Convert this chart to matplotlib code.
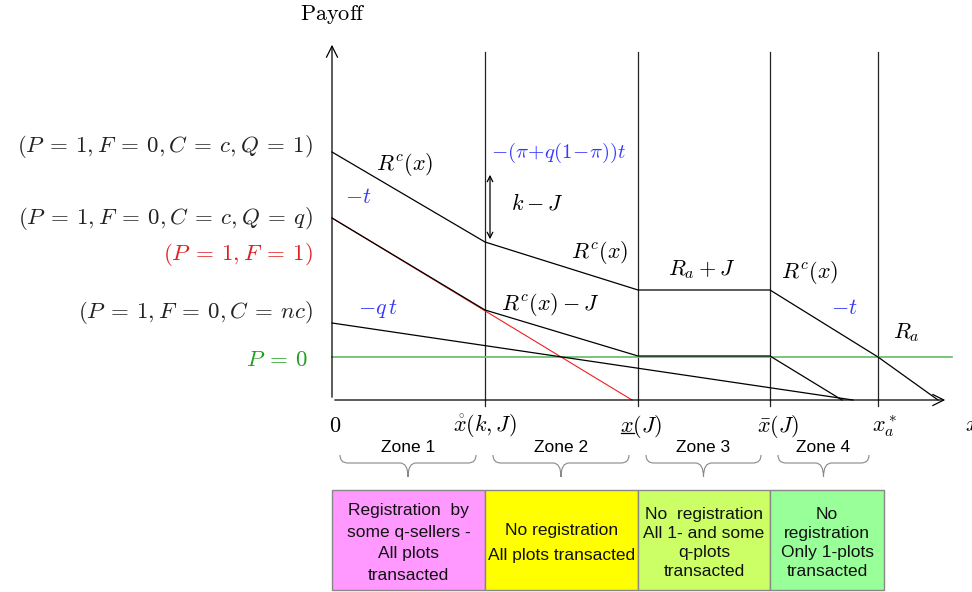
import matplotlib
matplotlib.use("Agg")
import matplotlib.pyplot as plt
from matplotlib.path import Path
from matplotlib.patches import PathPatch, Rectangle

plt.rcParams['mathtext.fontset'] = 'cm'

# zone boundaries on the x axis
x_bounds = [0, 153, 306, 438, 546]
x_tick_labels = ['$0$', r'$\mathring{x}(k,J)$', '$x(J)$', r'$\bar{x}(J)$', '$x_a^*$']

# payoff curves (x, payoff)
rc_x = [0, 153, 306, 438, 546, 606]
rc_y = [248, 158, 110, 110, 43, 0]
q_x = [0, 153, 306, 438, 510]
q_y = [182, 90, 44, 44, 0]
red_x = [0, 300]
red_y = [182, 0]
nc_x = [0, 521]
nc_y = [77, 0]
p0_level = 43

EQ = r'\:=\:'
left_labels = [f'$(P{EQ}1,F{EQ}0,C{EQ}c,Q{EQ}1)$', f'$(P{EQ}1,F{EQ}0,C{EQ}c,Q{EQ}q)$',
               f'$(P{EQ}1,F{EQ}1)$', f'$(P{EQ}1,F{EQ}0,C{EQ}nc)$', f'$P{EQ}0$']
left_label_y = [254, 182, 145, 87, 40]
left_label_colors = ['#222222', '#222222', '#e02020', '#222222', '#22a022']

zone_names = ['Zone 1', 'Zone 2', 'Zone 3', 'Zone 4']
box_texts = ['Registration  by\nsome q-sellers -\nAll plots\ntransacted',
             'No registration\nAll plots transacted',
             'No  registration\nAll 1- and some\nq-plots\ntransacted',
             'No\nregistration\nOnly 1-plots\ntransacted']
box_right = [153, 306, 438, 552]
box_colors = ['#ff99ff', '#ffff00', '#ccff66', '#99ff99']
box_spacing = [1.55, 1.77, 1.36, 1.36]

fig = plt.figure(figsize=(9.72, 5.92), dpi=100)
ax = fig.add_axes([0, 0, 1, 1])
ax.set_xlim(-332, 640)
ax.set_ylim(-192, 400)
ax.axis('off')

lw = 0.9
# axes with arrows
ax.annotate('', xy=(0, 358), xytext=(0, 0),
            arrowprops=dict(arrowstyle='->', lw=lw, color='black', mutation_scale=20))
ax.annotate('', xy=(616, 0), xytext=(0, 0),
            arrowprops=dict(arrowstyle='->', lw=lw, color='black', mutation_scale=20))
ax.text(1, 385, r'$\mathrm{Payoff}$', fontsize=16, ha='center', va='center')
ax.text(633, -25, '$x$', fontsize=16, ha='left', va='center')

# vertical zone lines
for xb in x_bounds[1:]:
    ax.plot([xb, xb], [-6, 348], color='#222222', lw=lw)

# payoff lines
ax.plot([0, 620], [p0_level, p0_level], color='#70c070', lw=1.3)
ax.plot(red_x, red_y, color='#ee2020', lw=0.8)
ax.plot(rc_x, rc_y, color='black', lw=lw)
ax.plot(q_x, q_y, color='black', lw=lw)
ax.plot(nc_x, nc_y, color='black', lw=lw)

# k - J double arrow
ax.annotate('', xy=(158, 228), xytext=(158, 158),
            arrowprops=dict(arrowstyle='<->', lw=lw, color='black', mutation_scale=10))

fs = 16
blue = '#3a3aff'
ax.text(73, 235, '$R^c(x)$', fontsize=fs, ha='center', va='center')
ax.text(26, 203, '$-t$', fontsize=fs, ha='center', va='center', color=blue)
ax.text(227, 247, r'$-(\pi\!+\!q(1\!-\!\pi))t$', fontsize=15, ha='center', va='center', color=blue)
ax.text(205, 197, '$k-J$', fontsize=fs, ha='center', va='center')
ax.text(268, 148, '$R^c(x)$', fontsize=fs, ha='center', va='center')
ax.text(218, 95, '$R^c(x)-J$', fontsize=fs, ha='center', va='center')
ax.text(46, 92, r'$-q\,t$', fontsize=fs, ha='center', va='center', color=blue)
ax.text(370, 130, '$R_a+J$', fontsize=fs, ha='center', va='center')
ax.text(478, 127, '$R^c(x)$', fontsize=fs, ha='center', va='center')
ax.text(512, 92, '$-t$', fontsize=fs, ha='center', va='center', color=blue)
ax.text(574, 67, '$R_a$', fontsize=fs, ha='center', va='center')

# left-hand labels
for lab, ly, lc in zip(left_labels, left_label_y, left_label_colors):
    xr = -24 if lc == '#22a022' else -19
    ax.text(xr, ly, lab, fontsize=16.5, ha='right', va='center', color=lc)

# x tick labels
tick_shift = [3, 0, 6, 8, 7]
for i, (xb, lab, dx) in enumerate(zip(x_bounds, x_tick_labels, tick_shift)):
    if i == 2:
        ax.text(xb - 18, -26, lab, fontsize=fs, ha='left', va='center')
    else:
        ax.text(xb + dx, -26, lab, fontsize=fs, ha='center', va='center')
ax.plot([x_bounds[2] - 17, x_bounds[2] - 4], [-33, -33], color='black', lw=0.9)


def brace(x0, x1, ytop=-55, ybot=-77):
    xm = (x0 + x1) / 2
    ymid = ytop - 8
    r = 8
    verts = [(x0, ytop), (x0, ymid), (x0 + r, ymid), (xm - r, ymid),
             (xm, ymid), (xm, ybot), (xm, ymid), (xm + r, ymid),
             (x1 - r, ymid), (x1, ymid), (x1, ytop)]
    codes = [Path.MOVETO, Path.CURVE3, Path.CURVE3, Path.LINETO,
             Path.CURVE3, Path.CURVE3, Path.CURVE3, Path.CURVE3,
             Path.LINETO, Path.CURVE3, Path.CURVE3]
    ax.add_patch(PathPatch(Path(verts, codes), fill=False, lw=0.8, edgecolor='#888888'))


for i, name in enumerate(zone_names):
    x0 = x_bounds[i] + 8
    x1 = x_bounds[i + 1] - 9
    brace(x0, x1)
    ax.text((x0 + x1) / 2, -48, name, fontsize=12.5, family='Liberation Sans',
            ha='center', va='center')

# zone description boxes
box_left = [0] + box_right[:-1]
for xl, xr, col, txt, ls in zip(box_left, box_right, box_colors, box_texts, box_spacing):
    ax.add_patch(Rectangle((xl, -190), xr - xl, 100, facecolor=col,
                           edgecolor='#888888', lw=1))
    ax.text((xl + xr) / 2, -143, txt, fontsize=12.5, family='Liberation Sans',
            ha='center', va='center', linespacing=ls, color='#111111')

fig.savefig('out.png', dpi=100)
